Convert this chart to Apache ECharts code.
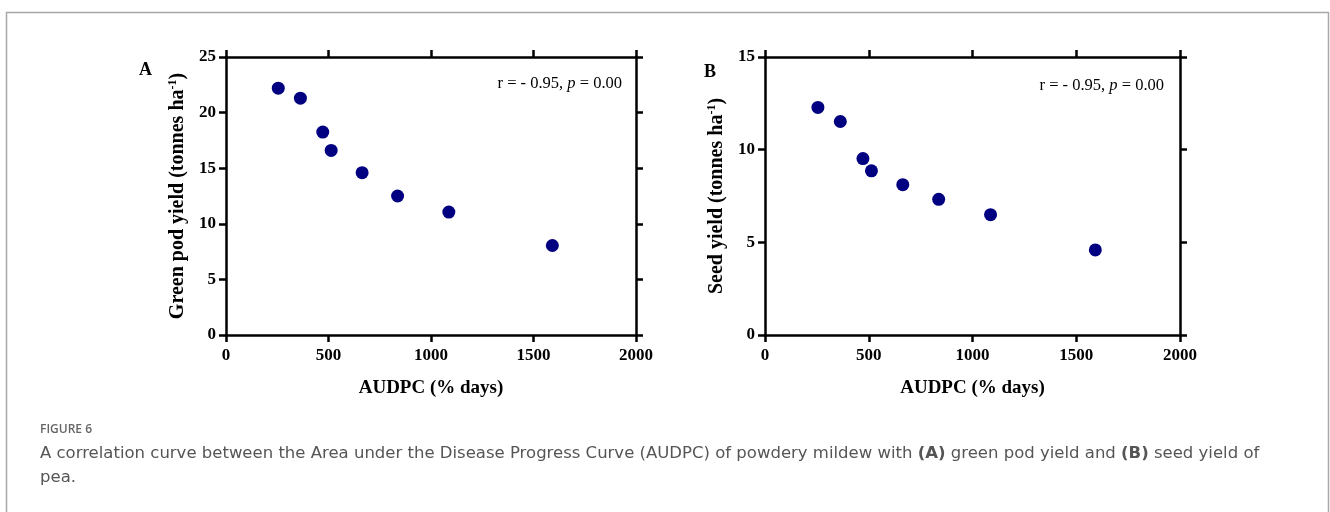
<!DOCTYPE html>
<html>
<head>
<meta charset="utf-8">
<script src="https://cdn.jsdelivr.net/npm/echarts@6/dist/echarts.min.js"></script>
<style>
html,body{margin:0;padding:0;background:#fff;}
#main{width:1330px;height:512px;}
</style>
</head>
<body>
<div id="main"></div>
<script>
// Data
const audpc = [255, 363, 472, 513, 664, 837, 1087, 1592];
const greenPodYield = [22.2, 21.3, 18.25, 16.6, 14.6, 12.5, 11.05, 8.05];
const seedYield = [12.28, 11.52, 9.52, 8.86, 8.11, 7.32, 6.49, 4.59];
const xTicks = [0, 500, 1000, 1500, 2000];
const yTicksA = [0, 5, 10, 15, 20, 25];
const yTicksB = [0, 5, 10, 15];

const serif = '"Liberation Serif","Times New Roman",serif';
const navy = '#000080';

function pairs(xs, ys) { return xs.map((x, i) => [x, ys[i]]); }

function xAxes(gridIndex) {
  const base = {
    type: 'value', gridIndex, min: xTicks[0], max: xTicks[xTicks.length - 1], interval: xTicks[1] - xTicks[0],
    axisLine: {show: true, onZero: false, lineStyle: {color: '#000', width: 2.5}},
    axisTick: {show: true, length: 7, lineStyle: {color: '#000', width: 2.5}},
    splitLine: {show: false}
  };
  return [
    Object.assign({}, base, {
      position: 'bottom',
      name: 'AUDPC (% days)', nameLocation: 'middle', nameGap: 44,
      nameTextStyle: {fontFamily: serif, fontWeight: 'bold', fontSize: 19, color: '#000'},
      axisLabel: {fontFamily: serif, fontWeight: 'bold', fontSize: 17, color: '#000', margin: 12,
                  formatter: v => String(v)}
    }),
    Object.assign({}, base, {position: 'top', axisLabel: {show: false}})
  ];
}

function yAxes(gridIndex, ticks, nameRich) {
  const base = {
    type: 'value', gridIndex, min: ticks[0], max: ticks[ticks.length - 1], interval: ticks[1] - ticks[0],
    axisLine: {show: true, onZero: false, lineStyle: {color: '#000', width: 2.5}},
    axisTick: {show: true, length: 7, lineStyle: {color: '#000', width: 2.5}},
    splitLine: {show: false}
  };
  return [
    Object.assign({}, base, {
      position: 'left',
      name: nameRich, nameLocation: 'middle', nameGap: 37,
      nameTextStyle: {
        fontFamily: serif, fontWeight: 'bold', fontSize: 20, color: '#000',
        rich: {
          a: {fontFamily: serif, fontWeight: 'bold', fontSize: 20, color: '#000'},
          s: {fontFamily: serif, fontWeight: 'bold', fontSize: 12, color: '#000', padding: [0, 0, 10, 0]}
        }
      },
      axisLabel: {fontFamily: serif, fontWeight: 'bold', fontSize: 17, color: '#000', margin: 10}
    }),
    Object.assign({}, base, {position: 'right', axisLabel: {show: false}})
  ];
}

const chart = echarts.init(document.getElementById('main'), null, {renderer: 'canvas'});

const annRich = {
  n: {fontFamily: serif, fontSize: 16.5, color: '#000'},
  i: {fontFamily: serif, fontSize: 16.5, fontStyle: 'italic', color: '#000'}
};

chart.setOption({
  animation: false,
  backgroundColor: '#fff',
  grid: [
    {left: 226, top: 57, width: 410, height: 278},
    {left: 765, top: 57, width: 415, height: 278}
  ],
  xAxis: [].concat(xAxes(0), xAxes(1)),
  yAxis: [].concat(
    yAxes(0, yTicksA, '{a|Green pod yield (tonnes ha}{s|-1}{a|)}'),
    yAxes(1, yTicksB, '{a|Seed yield (tonnes ha}{s|-1}{a|)}')
  ),
  series: [
    {type: 'scatter', xAxisIndex: 0, yAxisIndex: 0, data: pairs(audpc, greenPodYield),
     symbolSize: 13, itemStyle: {color: navy, opacity: 1}},
    {type: 'scatter', xAxisIndex: 2, yAxisIndex: 2, data: pairs(audpc, seedYield),
     symbolSize: 13, itemStyle: {color: navy, opacity: 1}}
  ],
  graphic: [
    {type: 'rect', shape: {x: 6.5, y: 12.5, width: 1322, height: 520},
     style: {fill: 'none', stroke: '#a8a8a8', lineWidth: 1.5}, silent: true},
    {type: 'text', left: 139, top: 61,
     style: {text: 'A', font: 'bold 18px ' + serif, fill: '#000'}},
    {type: 'text', left: 704, top: 63,
     style: {text: 'B', font: 'bold 18px ' + serif, fill: '#000'}},
    {type: 'text', x: 622, y: 84,
     style: {text: '{n|r = - 0.95, }{i|p}{n| = 0.00}', rich: annRich, align: 'right', verticalAlign: 'middle'}},
    {type: 'text', x: 1164, y: 86,
     style: {text: '{n|r = - 0.95, }{i|p}{n| = 0.00}', rich: annRich, align: 'right', verticalAlign: 'middle'}},
    {type: 'text', left: 40, top: 424,
     style: {text: 'FIGURE 6', font: '600 12px "Open Sans", sans-serif', fill: '#666'}},
    {type: 'text', left: 40, top: 445,
     style: {
       text: '{r|A correlation curve between the Area under the Disease Progress Curve (AUDPC) of powdery mildew with }{b|(A)}{r| green pod yield and }{b|(B)}{r| seed yield of}\n{r|pea.}',
       rich: {
         r: {font: '16.5px "DejaVu Sans", sans-serif', fill: '#555', lineHeight: 24},
         b: {font: 'bold 16.5px "DejaVu Sans", sans-serif', fill: '#555', lineHeight: 24}
       }
     }}
  ]
});
</script>
</body>
</html>
